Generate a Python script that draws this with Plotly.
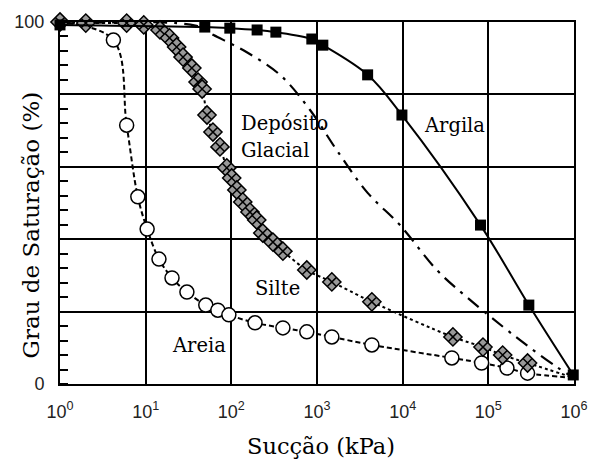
import math
import plotly.graph_objects as go

# Data (suction kPa, saturation %)
argila_x = [1, 49, 96, 200, 331, 870, 1170, 3900, 9800, 81000, 297000, 980000]
argila_y = [99.2, 98.6, 98.3, 97.8, 97.2, 95.3, 93.6, 85.4, 74.3, 43.9, 21.8, 2.5]

glacial_x = [1, 38, 62, 150, 370, 830, 1700, 3900, 9300, 25000, 56000, 150000, 300000, 630000, 1000000]
glacial_y = [99.5, 99.0, 96.4, 91.7, 85.4, 75.7, 64.6, 52.8, 43.9, 31.5, 24.0, 15.7, 10.2, 4.7, 1.7]

silte_x = [1, 2, 6, 9.5, 14.7, 19, 23, 27.3, 34.6, 40.9, 45.6, 52, 61, 73.7, 88.5, 101, 116, 136,
           165, 198, 233, 306, 400, 760, 1490, 4370, 38600, 86600, 147000, 287000, 1000000]
silte_y = [100, 99.7, 99.7, 99.2, 97.8, 95.6, 93.1, 90.3, 87.3, 83.4, 81.5, 74.3, 69.6, 65.5, 59.7,
           56.9, 53.6, 50.3, 47.5, 45.3, 41.7, 39.2, 36.7, 31.5, 28.2, 22.7, 13.0, 10.2, 8.0, 5.8, 1.7]

areia_x = [1, 4.2, 6.0, 8.1, 10.4, 14.3, 20.3, 30.3, 50.3, 69.6, 93.6, 189, 400, 760, 1490, 4370,
           37500, 83500, 165000, 287000, 1000000]
areia_y = [100, 95.0, 71.5, 51.7, 42.8, 34.5, 29.3, 25.4, 21.8, 20.4, 19.1, 16.9, 15.5, 14.4, 13.0,
           10.8, 7.2, 5.8, 4.4, 3.0, 1.7]

x_tickvals = [1, 10, 100, 1000, 10000, 100000, 1000000]
x_ticktext = ["10<sup>0</sup>", "10<sup>1</sup>", "10<sup>2</sup>", "10<sup>3</sup>",
              "10<sup>4</sup>", "10<sup>5</sup>", "10<sup>6</sup>"]
y_tickvals = [0, 20, 40, 60, 80, 100]
y_ticktext = ["0", "", "", "", "", "100"]

# curve labels: text, suction (kPa), saturation (%)
labels = [("Depósito", 123, 72.0), ("Glacial", 123, 64.5), ("Argila", 16800, 71.5),
          ("Silte", 179, 26.5), ("Areia", 19.2, 10.5)]

x_title = "Sucção (kPa)"
y_title = "Grau de Saturação (%)"

serif = "DejaVu Serif"
sans = "Liberation Sans"

fig = go.Figure()

# Depósito Glacial (dash-dot, no markers)
fig.add_trace(go.Scatter(x=glacial_x, y=glacial_y, mode="lines",
                         line=dict(color="black", width=2.2, dash="14px,7px,3px,7px"),
                         line_shape="spline", cliponaxis=False))

# Areia line + markers
fig.add_trace(go.Scatter(x=areia_x, y=areia_y, mode="lines",
                         line=dict(color="black", width=2, dash="5px,3px"),
                         line_shape="spline", cliponaxis=False))
fig.add_trace(go.Scatter(x=areia_x[1:-1], y=areia_y[1:-1], mode="markers",
                         marker=dict(symbol="circle", size=14, color="white",
                                     line=dict(color="black", width=1.5)),
                         cliponaxis=False))

# Silte line + markers
fig.add_trace(go.Scatter(x=silte_x, y=silte_y, mode="lines",
                         line=dict(color="black", width=2, dash="dot"),
                         line_shape="spline", cliponaxis=False))
fig.add_trace(go.Scatter(x=silte_x[:-1], y=silte_y[:-1], mode="markers",
                         marker=dict(symbol="diamond-x", size=14, color="#999999",
                                     line=dict(color="black", width=1.5)),
                         cliponaxis=False))

# Argila
fig.add_trace(go.Scatter(x=argila_x, y=argila_y, mode="lines+markers",
                         line=dict(color="black", width=2),
                         line_shape="spline",
                         marker=dict(symbol="square", size=11, color="black"),
                         cliponaxis=False))

for txt, lx, ly in labels:
    fig.add_annotation(x=math.log10(lx), y=ly, text=txt, showarrow=False, xref="x", yref="y",
                       xanchor="left", yanchor="middle",
                       font=dict(family=serif, size=19.5, color="black"))

fig.add_annotation(x=0.508, y=-0.17, xref="paper", yref="paper", text=x_title, showarrow=False,
                   xanchor="center", yanchor="middle", font=dict(family=serif, size=22.5, color="black"))
fig.add_annotation(x=-0.057, y=0.44, xref="paper", yref="paper", text=y_title, showarrow=False,
                   textangle=-90, xanchor="center", yanchor="middle",
                   font=dict(family=serif, size=23, color="black"))

fig.update_xaxes(type="log", range=[0, 6], tickmode="array", tickvals=x_tickvals,
                 ticktext=x_ticktext, showgrid=True, gridcolor="black", gridwidth=1.5,
                 showline=True, linecolor="black", linewidth=2, mirror=True,
                 ticks="", zeroline=False, ticklabelstandoff=10, automargin=False,
                 tickfont=dict(family=sans, size=18, color="#222"))

fig.update_yaxes(range=[0, 100], tickmode="array", tickvals=y_tickvals, ticktext=y_ticktext,
                 showgrid=True, gridcolor="black", gridwidth=1.5,
                 showline=True, linecolor="black", linewidth=2, mirror=True,
                 ticks="", zeroline=False, ticklabelstandoff=10, automargin=False,
                 minor=dict(dtick=4, tick0=0, ticks="inside", ticklen=8, tickcolor="black",
                            tickwidth=1.5, showgrid=False),
                 tickfont=dict(family=sans, size=18, color="#222"))

fig.update_layout(width=591, height=459, margin=dict(l=60, r=17, t=22, b=75, autoexpand=False),
                  paper_bgcolor="white", plot_bgcolor="white", showlegend=False)

fig.write_html("out.html")
